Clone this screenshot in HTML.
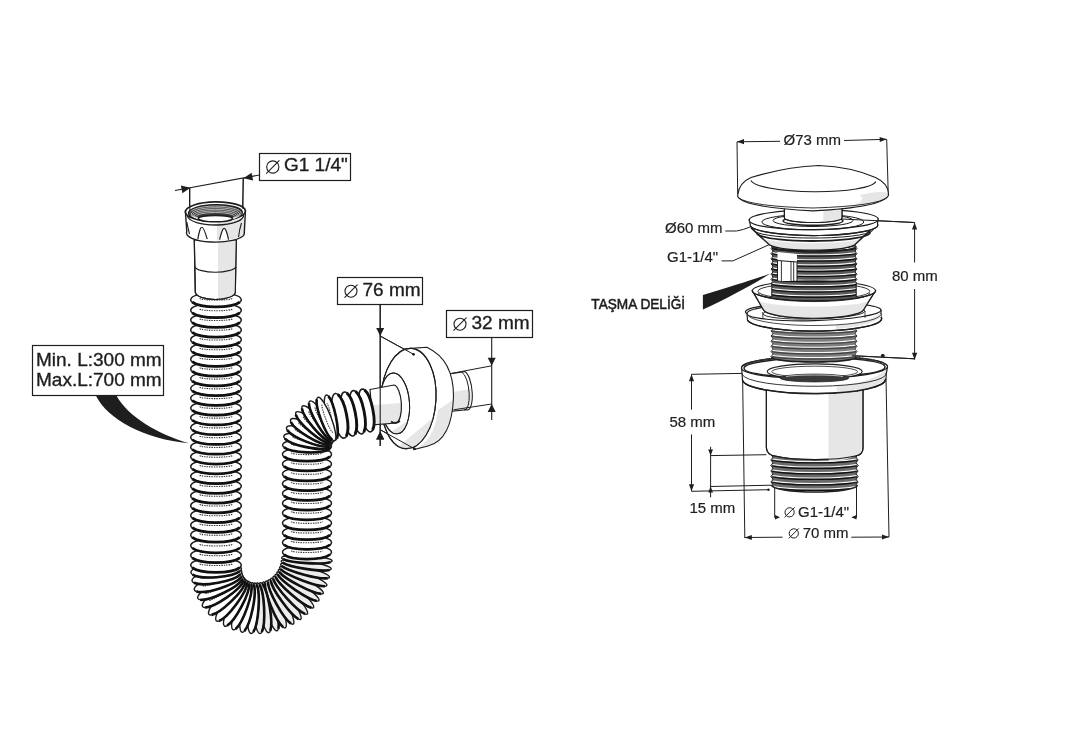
<!DOCTYPE html>
<html><head><meta charset="utf-8"><style>
html,body{margin:0;padding:0;background:#fff;}
svg{display:block;font-family:"Liberation Sans",sans-serif;will-change:transform;}
</style></head><body>
<svg width="1069" height="734" viewBox="0 0 1069 734">
<rect width="1069" height="734" fill="#fff"/>
<rect x="259.5" y="153.5" width="91" height="27" fill="#fff" stroke="#1e1e1e" stroke-width="1.2"/>
<circle cx="272.8" cy="167" r="6.1" fill="none" stroke="#1e1e1e" stroke-width="1.1"/>
<line x1="266.2" y1="173.6" x2="279.4" y2="160.4" stroke="#1e1e1e" stroke-width="1.1"/>
<text x="284" y="171.4" font-size="19" font-weight="400" letter-spacing="0" text-anchor="start" fill="#1e1e1e" stroke="#1e1e1e" stroke-width="0.35">G1 1/4"</text>
<line x1="175.0" y1="190.5" x2="259.5" y2="175.0" stroke="#1e1e1e" stroke-width="1.1"/>
<path d="M190.5,187.7 L182.4,193.2 L180.9,185.4 Z" fill="#1e1e1e"/>
<path d="M243.5,178.2 L251.6,172.7 L253.1,180.5 Z" fill="#1e1e1e"/>
<line x1="189.5" y1="188.0" x2="189.5" y2="216.0" stroke="#1e1e1e" stroke-width="1.0"/>
<line x1="243.5" y1="178.0" x2="242.5" y2="208.0" stroke="#1e1e1e" stroke-width="1.0"/>
<rect x="337.5" y="277.5" width="85" height="27" fill="#fff" stroke="#1e1e1e" stroke-width="1.2"/>
<circle cx="351" cy="291.2" r="6.0" fill="none" stroke="#1e1e1e" stroke-width="1.1"/>
<line x1="344.5" y1="297.7" x2="357.5" y2="284.7" stroke="#1e1e1e" stroke-width="1.1"/>
<text x="362.5" y="296" font-size="19" font-weight="400" letter-spacing="0" text-anchor="start" fill="#1e1e1e" stroke="#1e1e1e" stroke-width="0.35">76 mm</text>
<line x1="380.2" y1="304.5" x2="380.2" y2="446.0" stroke="#1e1e1e" stroke-width="1.1"/>
<path d="M380.2,336.0 L376.2,328.0 L384.2,328.0 Z" fill="#1e1e1e"/>
<path d="M380.2,431.5 L384.2,439.5 L376.2,439.5 Z" fill="#1e1e1e"/>
<line x1="380.2" y1="336.0" x2="413.5" y2="354.3" stroke="#1e1e1e" stroke-width="1.0"/>
<line x1="380.2" y1="429.7" x2="414.5" y2="448.8" stroke="#1e1e1e" stroke-width="1.0"/>
<circle cx="413.5" cy="354.3" r="1.3" fill="#1e1e1e"/>
<circle cx="414.5" cy="448.8" r="1.3" fill="#1e1e1e"/>
<rect x="446.5" y="310.5" width="86" height="27" fill="#fff" stroke="#1e1e1e" stroke-width="1.2"/>
<circle cx="460" cy="324.2" r="6.0" fill="none" stroke="#1e1e1e" stroke-width="1.1"/>
<line x1="453.5" y1="330.7" x2="466.5" y2="317.7" stroke="#1e1e1e" stroke-width="1.1"/>
<text x="471.5" y="329" font-size="19" font-weight="400" letter-spacing="0" text-anchor="start" fill="#1e1e1e" stroke="#1e1e1e" stroke-width="0.35">32 mm</text>
<line x1="491.7" y1="337.5" x2="491.7" y2="420.0" stroke="#1e1e1e" stroke-width="1.1"/>
<path d="M491.7,365.8 L487.7,357.8 L495.7,357.8 Z" fill="#1e1e1e"/>
<path d="M491.7,404.0 L495.7,412.0 L487.7,412.0 Z" fill="#1e1e1e"/>
<rect x="32.5" y="345.5" width="131" height="50" fill="#fff" stroke="#1e1e1e" stroke-width="1.2"/>
<text x="36" y="366.3" font-size="19" font-weight="400" letter-spacing="0" text-anchor="start" fill="#1e1e1e" stroke="#1e1e1e" stroke-width="0.35">Min. L:300 mm</text>
<text x="36" y="385.6" font-size="19" font-weight="400" letter-spacing="0" text-anchor="start" fill="#1e1e1e" stroke="#1e1e1e" stroke-width="0.35">Max.L:700 mm</text>
<path d="M95.8,395.5 L116.4,395.5 C128,417 158,434 189,443.3 C145,439 108,420 95.8,395.5 Z" fill="#1e1e1e"/>
<text x="783.5" y="144.5" font-size="15" font-weight="400" letter-spacing="0" text-anchor="start" fill="#1e1e1e" stroke="#1e1e1e" stroke-width="0.2">Ø73 mm</text>
<line x1="737.0" y1="141.8" x2="780.0" y2="141.3" stroke="#1e1e1e" stroke-width="1.0"/>
<line x1="844.0" y1="140.5" x2="886.7" y2="139.3" stroke="#1e1e1e" stroke-width="1.0"/>
<path d="M737.0,141.8 L744.0,139.1 L744.0,144.3 Z" fill="#1e1e1e"/>
<path d="M886.7,139.3 L879.8,142.1 L879.6,136.9 Z" fill="#1e1e1e"/>
<line x1="737.0" y1="141.8" x2="737.7" y2="194.0" stroke="#1e1e1e" stroke-width="1.0"/>
<line x1="886.7" y1="139.3" x2="888.2" y2="192.4" stroke="#1e1e1e" stroke-width="1.0"/>
<text x="665" y="232.8" font-size="15" font-weight="400" letter-spacing="0" text-anchor="start" fill="#1e1e1e" stroke="#1e1e1e" stroke-width="0.2">Ø60 mm</text>
<path d="M725.3,231 L736.5,231 Q743,230 750.6,226.8" fill="none" stroke="#1e1e1e" stroke-width="1"/>
<text x="667" y="262.4" font-size="15" font-weight="400" letter-spacing="0" text-anchor="start" fill="#1e1e1e" stroke="#1e1e1e" stroke-width="0.2">G1-1/4"</text>
<path d="M721.6,260.9 L732.8,260.9 L769.3,244.6" fill="none" stroke="#1e1e1e" stroke-width="1"/>
<text transform="translate(591.3 308.6) scale(0.9 1)" x="0" y="0" font-size="15.2" fill="#1e1e1e" stroke="#1e1e1e" stroke-width="0.55">TAŞMA DELİĞİ</text>
<path d="M702.9,295 C728,287.5 752,280 770.5,273.5 C752,285 728,298 702.9,309.5 Z" fill="#1e1e1e"/>
<text x="892" y="281" font-size="15" font-weight="400" letter-spacing="0" text-anchor="start" fill="#1e1e1e" stroke="#1e1e1e" stroke-width="0.2">80 mm</text>
<line x1="841.3" y1="219.0" x2="914.6" y2="222.5" stroke="#1e1e1e" stroke-width="1.0"/>
<line x1="914.6" y1="222.5" x2="914.6" y2="262.5" stroke="#1e1e1e" stroke-width="1.0"/>
<line x1="914.6" y1="289.0" x2="914.6" y2="359.7" stroke="#1e1e1e" stroke-width="1.0"/>
<path d="M914.6,222.5 L917.2,229.5 L912.0,229.5 Z" fill="#1e1e1e"/>
<path d="M914.6,359.7 L912.0,352.7 L917.2,352.7 Z" fill="#1e1e1e"/>
<line x1="857.0" y1="356.0" x2="914.6" y2="358.8" stroke="#1e1e1e" stroke-width="1.0"/>
<circle cx="882.5" cy="355.6" r="1.6" fill="#1e1e1e"/>
<text x="669.5" y="427.2" font-size="15" font-weight="400" letter-spacing="0" text-anchor="start" fill="#1e1e1e" stroke="#1e1e1e" stroke-width="0.2">58 mm</text>
<line x1="691.5" y1="374.3" x2="742.0" y2="373.4" stroke="#1e1e1e" stroke-width="1.0"/>
<line x1="691.5" y1="374.3" x2="691.5" y2="409.6" stroke="#1e1e1e" stroke-width="1.0"/>
<line x1="691.5" y1="434.4" x2="691.5" y2="491.3" stroke="#1e1e1e" stroke-width="1.0"/>
<path d="M691.5,374.3 L694.1,381.3 L688.9,381.3 Z" fill="#1e1e1e"/>
<path d="M691.5,491.3 L688.9,484.3 L694.1,484.3 Z" fill="#1e1e1e"/>
<line x1="691.5" y1="491.3" x2="768.5" y2="489.7" stroke="#1e1e1e" stroke-width="1.0"/>
<circle cx="768.5" cy="489.7" r="1.2" fill="#1e1e1e"/>
<text x="689.5" y="513" font-size="15" font-weight="400" letter-spacing="0" text-anchor="start" fill="#1e1e1e" stroke="#1e1e1e" stroke-width="0.2">15 mm</text>
<line x1="710.6" y1="446.8" x2="710.6" y2="497.4" stroke="#1e1e1e" stroke-width="1.0"/>
<line x1="710.6" y1="455.6" x2="766.4" y2="454.7" stroke="#1e1e1e" stroke-width="1.0"/>
<line x1="710.6" y1="486.5" x2="771.6" y2="485.2" stroke="#1e1e1e" stroke-width="1.0"/>
<path d="M710.6,455.6 L708.2,449.6 L713.0,449.6 Z" fill="#1e1e1e"/>
<path d="M710.6,486.5 L713.0,492.5 L708.2,492.5 Z" fill="#1e1e1e"/>
<circle cx="789.6" cy="512.3" r="4.6" fill="none" stroke="#1e1e1e" stroke-width="1.0"/>
<line x1="784.6" y1="517.3" x2="794.6" y2="507.3" stroke="#1e1e1e" stroke-width="1.0"/>
<text x="798" y="516.6" font-size="15" font-weight="400" letter-spacing="0" text-anchor="start" fill="#1e1e1e" stroke="#1e1e1e" stroke-width="0.2">G1-1/4"</text>
<line x1="774.7" y1="485.0" x2="774.7" y2="517.5" stroke="#1e1e1e" stroke-width="1.0"/>
<line x1="856.5" y1="485.0" x2="856.5" y2="517.5" stroke="#1e1e1e" stroke-width="1.0"/>
<line x1="774.7" y1="517.5" x2="779.0" y2="517.5" stroke="#1e1e1e" stroke-width="1.0"/>
<line x1="852.0" y1="517.5" x2="856.5" y2="517.5" stroke="#1e1e1e" stroke-width="1.0"/>
<path d="M780.0,517.3 L775.0,519.5 L775.0,515.1 Z" fill="#1e1e1e"/>
<path d="M851.5,517.3 L856.5,515.1 L856.5,519.5 Z" fill="#1e1e1e"/>
<circle cx="793.8" cy="533.4" r="4.6" fill="none" stroke="#1e1e1e" stroke-width="1.0"/>
<line x1="788.8" y1="538.4" x2="798.8" y2="528.4" stroke="#1e1e1e" stroke-width="1.0"/>
<text x="802.7" y="537.6" font-size="15" font-weight="400" letter-spacing="0" text-anchor="start" fill="#1e1e1e" stroke="#1e1e1e" stroke-width="0.2">70 mm</text>
<line x1="742.5" y1="368.0" x2="744.8" y2="538.0" stroke="#1e1e1e" stroke-width="1.0"/>
<line x1="885.8" y1="367.0" x2="889.0" y2="537.0" stroke="#1e1e1e" stroke-width="1.0"/>
<line x1="744.8" y1="537.5" x2="782.6" y2="537.2" stroke="#1e1e1e" stroke-width="1.0"/>
<line x1="851.3" y1="537.2" x2="889.0" y2="537.0" stroke="#1e1e1e" stroke-width="1.0"/>
<path d="M744.8,537.5 L751.8,534.9 L751.8,540.1 Z" fill="#1e1e1e"/>
<path d="M889.0,537.0 L882.0,539.6 L882.0,534.4 Z" fill="#1e1e1e"/>
<path d="M444,374.8 L464.5,371.6 A6.5,19.2 -6 0 1 466.5,409.8 L446,411.8 Z" fill="#fff" stroke="none"/>
<path d="M446,393 L470.5,389 A6.5,19.2 -6 0 1 466.5,409.8 L446,411.8 Z" fill="#e6e6e6"/>
<path d="M444,374.8 L464.5,371.6 A6.5,19.2 -6 0 1 466.5,409.8 L446,411.8 Z" fill="none" stroke="#1e1e1e" stroke-width="1.1"/>
<path d="M462,372.5 A6.3,19 -6 0 1 464,410" fill="none" stroke="#1e1e1e" stroke-width="1.0"/>
<line x1="444.0" y1="374.8" x2="491.7" y2="365.8" stroke="#1e1e1e" stroke-width="1.0"/>
<line x1="453.5" y1="409.8" x2="491.7" y2="404.0" stroke="#1e1e1e" stroke-width="1.0"/>
<path d="M411,348.4 L426.8,347.2 Q454,360 453.5,397 Q452,440 428,446 L414,449.5 Z" fill="#fff" stroke="none"/>
<path d="M414,449.5 L428,446 Q450,438 453,400 L438,410 Q434,442 414,449.5 Z" fill="#e6e6e6"/>
<path d="M411,348.4 L426.8,347.2 Q454,360 453.5,397 Q452,440 428,446 L414,449.5 Z" fill="none" stroke="#1e1e1e" stroke-width="1.1"/>
<ellipse cx="408.50" cy="398.50" rx="27.50" ry="50.20" transform="rotate(3.00 408.50 398.50)" fill="#fff" stroke="#1e1e1e" stroke-width="1.1" />
<clipPath id="dfc"><ellipse cx="408.5" cy="398.5" rx="27.5" ry="50.2" transform="rotate(3 408.5 398.5)"/></clipPath>
<path d="M392,452 L440,412 L440,460 Z" fill="#e6e6e6" clip-path="url(#dfc)"/>
<ellipse cx="408.50" cy="398.50" rx="27.50" ry="50.20" transform="rotate(3.00 408.50 398.50)" fill="none" stroke="#1e1e1e" stroke-width="1.1" />
<ellipse cx="395.00" cy="403.40" rx="14.50" ry="30.50" transform="rotate(-4.00 395.00 403.40)" fill="#fff" stroke="#1e1e1e" stroke-width="1.0" />
<clipPath id="src"><ellipse cx="395" cy="403.4" rx="14.5" ry="30.5" transform="rotate(-4 395 403.4)"/></clipPath>
<path d="M385,436 L412,418 L412,440 L385,440 Z" fill="#e6e6e6" clip-path="url(#src)"/>
<ellipse cx="395.00" cy="403.40" rx="14.50" ry="30.50" transform="rotate(-4.00 395.00 403.40)" fill="none" stroke="#1e1e1e" stroke-width="1.0" />
<path d="M370,389.5 L394,385 A7,19.2 -3 0 1 396.5,423 L373,424.8 Z" fill="#fff" stroke="none"/>
<path d="M372,405 L402,403 A7,19.2 -3 0 1 396.5,423 L373,424.8 Z" fill="#e6e6e6"/>
<path d="M370,389.5 L394,385 A7,19.2 -3 0 1 396.5,423 L373,424.8 Z" fill="none" stroke="#1e1e1e" stroke-width="1.2"/>
<path d="M391,421.5 Q395.5,424.5 400,421" fill="none" stroke="#1e1e1e" stroke-width="1.6"/>
<g transform="translate(270.15 606.45) rotate(-105.95)"><ellipse cx="0" cy="0" rx="25.3" ry="5.10875" fill="#ededed" stroke="#1e1e1e" stroke-width="1.44"/><path d="M-23.78,1.74 A25.3,5.10875 0 0 0 23.78,1.74" fill="none" stroke="#111" stroke-width="2.61"/></g>
<g transform="translate(275.62 604.54) rotate(67.58)"><ellipse cx="0" cy="0" rx="25.3" ry="4.984999999999999" fill="#ededed" stroke="#1e1e1e" stroke-width="1.44"/><path d="M-23.78,1.69 A25.3,4.984999999999999 0 0 0 23.78,1.69" fill="none" stroke="#111" stroke-width="2.61"/></g>
<g transform="translate(264.57 607.71) rotate(-99.50)"><ellipse cx="0" cy="0" rx="25.3" ry="5.2325" fill="#ededed" stroke="#1e1e1e" stroke-width="1.44"/><path d="M-23.78,1.78 A25.3,5.2325 0 0 0 23.78,1.78" fill="none" stroke="#111" stroke-width="2.61"/></g>
<g transform="translate(280.89 602.01) rotate(61.02)"><ellipse cx="0" cy="0" rx="25.3" ry="4.86125" fill="#ededed" stroke="#1e1e1e" stroke-width="1.44"/><path d="M-23.78,1.65 A25.3,4.86125 0 0 0 23.78,1.65" fill="none" stroke="#111" stroke-width="2.61"/></g>
<g transform="translate(258.77 608.33) rotate(-92.78)"><ellipse cx="0" cy="0" rx="25.3" ry="5.359999999999999" fill="#ededed" stroke="#1e1e1e" stroke-width="1.44"/><path d="M-23.78,1.82 A25.3,5.359999999999999 0 0 0 23.78,1.82" fill="none" stroke="#111" stroke-width="2.61"/></g>
<g transform="translate(285.89 598.84) rotate(54.29)"><ellipse cx="0" cy="0" rx="25.3" ry="4.7375" fill="#ededed" stroke="#1e1e1e" stroke-width="1.44"/><path d="M-23.78,1.61 A25.3,4.7375 0 0 0 23.78,1.61" fill="none" stroke="#111" stroke-width="2.61"/></g>
<g transform="translate(253.01 608.27) rotate(-85.86)"><ellipse cx="0" cy="0" rx="25.3" ry="5.4875" fill="#fff" stroke="#1e1e1e" stroke-width="1.44"/><path d="M-23.78,1.87 A25.3,5.4875 0 0 0 23.78,1.87" fill="none" stroke="#111" stroke-width="2.61"/></g>
<g transform="translate(290.28 595.30) rotate(47.79)"><ellipse cx="0" cy="0" rx="25.3" ry="4.62125" fill="#ededed" stroke="#1e1e1e" stroke-width="1.44"/><path d="M-23.78,1.57 A25.3,4.62125 0 0 0 23.78,1.57" fill="none" stroke="#111" stroke-width="2.61"/></g>
<g transform="translate(247.22 607.47) rotate(-78.43)"><ellipse cx="0" cy="0" rx="25.3" ry="5.61875" fill="#fff" stroke="#1e1e1e" stroke-width="1.44"/><path d="M-23.78,1.91 A25.3,5.61875 0 0 0 23.78,1.91" fill="none" stroke="#111" stroke-width="2.61"/></g>
<g transform="translate(294.41 591.07) rotate(40.89)"><ellipse cx="0" cy="0" rx="25.3" ry="4.50125" fill="#ededed" stroke="#1e1e1e" stroke-width="1.44"/><path d="M-23.78,1.53 A25.3,4.50125 0 0 0 23.78,1.53" fill="none" stroke="#111" stroke-width="2.61"/></g>
<g transform="translate(241.64 605.93) rotate(-70.59)"><ellipse cx="0" cy="0" rx="25.3" ry="5.75" fill="#fff" stroke="#1e1e1e" stroke-width="1.44"/><path d="M-23.78,1.96 A25.3,5.75 0 0 0 23.78,1.96" fill="none" stroke="#111" stroke-width="2.61"/></g>
<g transform="translate(297.97 586.43) rotate(34.05)"><ellipse cx="0" cy="0" rx="25.3" ry="4.385" fill="#ededed" stroke="#1e1e1e" stroke-width="1.44"/><path d="M-23.78,1.49 A25.3,4.385 0 0 0 23.78,1.49" fill="none" stroke="#111" stroke-width="2.61"/></g>
<g transform="translate(236.38 603.64) rotate(-62.25)"><ellipse cx="0" cy="0" rx="25.3" ry="5.88125" fill="#fff" stroke="#1e1e1e" stroke-width="1.44"/><path d="M-23.78,2.00 A25.3,5.88125 0 0 0 23.78,2.00" fill="none" stroke="#111" stroke-width="2.61"/></g>
<g transform="translate(300.85 581.59) rotate(27.56)"><ellipse cx="0" cy="0" rx="25.3" ry="4.276249999999999" fill="#ededed" stroke="#1e1e1e" stroke-width="1.44"/><path d="M-23.78,1.45 A25.3,4.276249999999999 0 0 0 23.78,1.45" fill="none" stroke="#111" stroke-width="2.61"/></g>
<g transform="translate(231.52 600.59) rotate(-53.42)"><ellipse cx="0" cy="0" rx="25.3" ry="6.012499999999999" fill="#fff" stroke="#1e1e1e" stroke-width="1.44"/><path d="M-23.78,2.04 A25.3,6.012499999999999 0 0 0 23.78,2.04" fill="none" stroke="#111" stroke-width="2.61"/></g>
<g transform="translate(303.24 576.30) rotate(21.05)"><ellipse cx="0" cy="0" rx="25.3" ry="4.1675" fill="#ededed" stroke="#1e1e1e" stroke-width="1.44"/><path d="M-23.78,1.42 A25.3,4.1675 0 0 0 23.78,1.42" fill="none" stroke="#111" stroke-width="2.61"/></g>
<g transform="translate(227.16 596.77) rotate(-44.19)"><ellipse cx="0" cy="0" rx="25.3" ry="6.14375" fill="#fff" stroke="#1e1e1e" stroke-width="1.44"/><path d="M-23.78,2.09 A25.3,6.14375 0 0 0 23.78,2.09" fill="none" stroke="#111" stroke-width="2.61"/></g>
<g transform="translate(305.03 570.74) rotate(14.82)"><ellipse cx="0" cy="0" rx="25.3" ry="4.0625" fill="#ededed" stroke="#1e1e1e" stroke-width="1.44"/><path d="M-23.78,1.38 A25.3,4.0625 0 0 0 23.78,1.38" fill="none" stroke="#111" stroke-width="2.61"/></g>
<g transform="translate(223.39 592.19) rotate(-34.74)"><ellipse cx="0" cy="0" rx="25.3" ry="6.275" fill="#fff" stroke="#1e1e1e" stroke-width="1.44"/><path d="M-23.78,2.13 A25.3,6.275 0 0 0 23.78,2.13" fill="none" stroke="#111" stroke-width="2.61"/><path d="M-16.2,-1.4 A16.2,1.8 0 0 0 16.2,-1.4" fill="none" stroke="#333" stroke-width="1.1" stroke-dasharray="1.4 1.0"/></g>
<g transform="translate(306.24 564.99) rotate(8.94)"><ellipse cx="0" cy="0" rx="25.3" ry="3.9612499999999997" fill="#ededed" stroke="#1e1e1e" stroke-width="1.44"/><path d="M-23.78,1.35 A25.3,3.9612499999999997 0 0 0 23.78,1.35" fill="none" stroke="#111" stroke-width="2.61"/></g>
<g transform="translate(220.53 587.31) rotate(-26.12)"><ellipse cx="0" cy="0" rx="25.3" ry="6.395" fill="#fff" stroke="#1e1e1e" stroke-width="1.44"/><path d="M-23.78,2.17 A25.3,6.395 0 0 0 23.78,2.17" fill="none" stroke="#111" stroke-width="2.61"/><path d="M-16.2,-1.4 A16.2,1.8 0 0 0 16.2,-1.4" fill="none" stroke="#333" stroke-width="1.1" stroke-dasharray="1.4 1.0"/></g>
<g transform="translate(306.86 559.30) rotate(3.67)"><ellipse cx="0" cy="0" rx="25.3" ry="3.8674999999999997" fill="#ededed" stroke="#1e1e1e" stroke-width="1.44"/><path d="M-23.78,1.31 A25.3,3.8674999999999997 0 0 0 23.78,1.31" fill="none" stroke="#111" stroke-width="2.61"/></g>
<g transform="translate(218.37 581.97) rotate(-18.03)"><ellipse cx="0" cy="0" rx="25.3" ry="6.5112499999999995" fill="#fff" stroke="#1e1e1e" stroke-width="1.44"/><path d="M-23.78,2.21 A25.3,6.5112499999999995 0 0 0 23.78,2.21" fill="none" stroke="#111" stroke-width="2.61"/><path d="M-16.2,-1.4 A16.2,1.8 0 0 0 16.2,-1.4" fill="none" stroke="#333" stroke-width="1.1" stroke-dasharray="1.4 1.0"/></g>
<g transform="translate(307.00 552.12) rotate(0.00)"><ellipse cx="0" cy="0" rx="24.5" ry="7.0" fill="#fff" stroke="#1e1e1e" stroke-width="1.52"/><path d="M-23.03,2.38 A24.5,7.0 0 0 0 23.03,2.38" fill="none" stroke="#111" stroke-width="2.75"/><path d="M-15.7,-1.4 A15.7,1.8 0 0 0 15.7,-1.4" fill="none" stroke="#333" stroke-width="1.1" stroke-dasharray="1.4 1.0"/></g>
<g transform="translate(216.91 576.21) rotate(-10.59)"><ellipse cx="0" cy="0" rx="25.3" ry="6.62375" fill="#fff" stroke="#1e1e1e" stroke-width="1.44"/><path d="M-23.78,2.25 A25.3,6.62375 0 0 0 23.78,2.25" fill="none" stroke="#111" stroke-width="2.61"/><path d="M-16.2,-1.4 A16.2,1.8 0 0 0 16.2,-1.4" fill="none" stroke="#333" stroke-width="1.1" stroke-dasharray="1.4 1.0"/></g>
<g transform="translate(216.17 570.52) rotate(-4.34)"><ellipse cx="0" cy="0" rx="25.3" ry="6.725" fill="#fff" stroke="#1e1e1e" stroke-width="1.44"/><path d="M-23.78,2.29 A25.3,6.725 0 0 0 23.78,2.29" fill="none" stroke="#111" stroke-width="2.61"/><path d="M-16.2,-1.4 A16.2,1.8 0 0 0 16.2,-1.4" fill="none" stroke="#333" stroke-width="1.1" stroke-dasharray="1.4 1.0"/></g>
<g transform="translate(307.00 542.40) rotate(0.00)"><ellipse cx="0" cy="0" rx="24.5" ry="7.0" fill="#fff" stroke="#1e1e1e" stroke-width="1.52"/><path d="M-23.03,2.38 A24.5,7.0 0 0 0 23.03,2.38" fill="none" stroke="#111" stroke-width="2.75"/><path d="M-15.7,-1.4 A15.7,1.8 0 0 0 15.7,-1.4" fill="none" stroke="#333" stroke-width="1.1" stroke-dasharray="1.4 1.0"/></g>
<g transform="translate(216.00 565.11) rotate(0.00)"><ellipse cx="0" cy="0" rx="25.3" ry="7.2" fill="#fff" stroke="#1e1e1e" stroke-width="1.52"/><path d="M-23.78,2.45 A25.3,7.2 0 0 0 23.78,2.45" fill="none" stroke="#111" stroke-width="2.75"/><path d="M-16.2,-1.4 A16.2,1.8 0 0 0 16.2,-1.4" fill="none" stroke="#333" stroke-width="1.1" stroke-dasharray="1.4 1.0"/></g>
<g transform="translate(307.00 532.68) rotate(0.00)"><ellipse cx="0" cy="0" rx="24.5" ry="7.0" fill="#fff" stroke="#1e1e1e" stroke-width="1.52"/><path d="M-23.03,2.38 A24.5,7.0 0 0 0 23.03,2.38" fill="none" stroke="#111" stroke-width="2.75"/><path d="M-15.7,-1.4 A15.7,1.8 0 0 0 15.7,-1.4" fill="none" stroke="#333" stroke-width="1.1" stroke-dasharray="1.4 1.0"/></g>
<g transform="translate(216.00 555.35) rotate(0.00)"><ellipse cx="0" cy="0" rx="25.3" ry="7.2" fill="#fff" stroke="#1e1e1e" stroke-width="1.52"/><path d="M-23.78,2.45 A25.3,7.2 0 0 0 23.78,2.45" fill="none" stroke="#111" stroke-width="2.75"/><path d="M-16.2,-1.4 A16.2,1.8 0 0 0 16.2,-1.4" fill="none" stroke="#333" stroke-width="1.1" stroke-dasharray="1.4 1.0"/></g>
<g transform="translate(307.00 522.96) rotate(0.00)"><ellipse cx="0" cy="0" rx="24.5" ry="7.0" fill="#fff" stroke="#1e1e1e" stroke-width="1.52"/><path d="M-23.03,2.38 A24.5,7.0 0 0 0 23.03,2.38" fill="none" stroke="#111" stroke-width="2.75"/><path d="M-15.7,-1.4 A15.7,1.8 0 0 0 15.7,-1.4" fill="none" stroke="#333" stroke-width="1.1" stroke-dasharray="1.4 1.0"/></g>
<g transform="translate(216.00 545.58) rotate(0.00)"><ellipse cx="0" cy="0" rx="25.3" ry="7.2" fill="#fff" stroke="#1e1e1e" stroke-width="1.52"/><path d="M-23.78,2.45 A25.3,7.2 0 0 0 23.78,2.45" fill="none" stroke="#111" stroke-width="2.75"/><path d="M-16.2,-1.4 A16.2,1.8 0 0 0 16.2,-1.4" fill="none" stroke="#333" stroke-width="1.1" stroke-dasharray="1.4 1.0"/></g>
<g transform="translate(307.00 512.88) rotate(0.00)"><ellipse cx="0" cy="0" rx="24.5" ry="7.0" fill="#fff" stroke="#1e1e1e" stroke-width="1.52"/><path d="M-23.03,2.38 A24.5,7.0 0 0 0 23.03,2.38" fill="none" stroke="#111" stroke-width="2.75"/><path d="M-15.7,-1.4 A15.7,1.8 0 0 0 15.7,-1.4" fill="none" stroke="#333" stroke-width="1.1" stroke-dasharray="1.4 1.0"/></g>
<g transform="translate(216.00 534.93) rotate(0.00)"><ellipse cx="0" cy="0" rx="25.3" ry="7.2" fill="#fff" stroke="#1e1e1e" stroke-width="1.52"/><path d="M-23.78,2.45 A25.3,7.2 0 0 0 23.78,2.45" fill="none" stroke="#111" stroke-width="2.75"/><path d="M-16.2,-1.4 A16.2,1.8 0 0 0 16.2,-1.4" fill="none" stroke="#333" stroke-width="1.1" stroke-dasharray="1.4 1.0"/></g>
<g transform="translate(307.00 503.16) rotate(0.00)"><ellipse cx="0" cy="0" rx="24.5" ry="7.0" fill="#fff" stroke="#1e1e1e" stroke-width="1.52"/><path d="M-23.03,2.38 A24.5,7.0 0 0 0 23.03,2.38" fill="none" stroke="#111" stroke-width="2.75"/><path d="M-15.7,-1.4 A15.7,1.8 0 0 0 15.7,-1.4" fill="none" stroke="#333" stroke-width="1.1" stroke-dasharray="1.4 1.0"/></g>
<g transform="translate(216.00 525.17) rotate(0.00)"><ellipse cx="0" cy="0" rx="25.3" ry="7.2" fill="#fff" stroke="#1e1e1e" stroke-width="1.52"/><path d="M-23.78,2.45 A25.3,7.2 0 0 0 23.78,2.45" fill="none" stroke="#111" stroke-width="2.75"/><path d="M-16.2,-1.4 A16.2,1.8 0 0 0 16.2,-1.4" fill="none" stroke="#333" stroke-width="1.1" stroke-dasharray="1.4 1.0"/></g>
<g transform="translate(307.00 493.44) rotate(0.00)"><ellipse cx="0" cy="0" rx="24.5" ry="7.0" fill="#fff" stroke="#1e1e1e" stroke-width="1.52"/><path d="M-23.03,2.38 A24.5,7.0 0 0 0 23.03,2.38" fill="none" stroke="#111" stroke-width="2.75"/><path d="M-15.7,-1.4 A15.7,1.8 0 0 0 15.7,-1.4" fill="none" stroke="#333" stroke-width="1.1" stroke-dasharray="1.4 1.0"/></g>
<g transform="translate(216.00 515.40) rotate(0.00)"><ellipse cx="0" cy="0" rx="25.3" ry="7.2" fill="#fff" stroke="#1e1e1e" stroke-width="1.52"/><path d="M-23.78,2.45 A25.3,7.2 0 0 0 23.78,2.45" fill="none" stroke="#111" stroke-width="2.75"/><path d="M-16.2,-1.4 A16.2,1.8 0 0 0 16.2,-1.4" fill="none" stroke="#333" stroke-width="1.1" stroke-dasharray="1.4 1.0"/></g>
<g transform="translate(307.00 483.72) rotate(0.00)"><ellipse cx="0" cy="0" rx="24.5" ry="7.0" fill="#fff" stroke="#1e1e1e" stroke-width="1.52"/><path d="M-23.03,2.38 A24.5,7.0 0 0 0 23.03,2.38" fill="none" stroke="#111" stroke-width="2.75"/><path d="M-15.7,-1.4 A15.7,1.8 0 0 0 15.7,-1.4" fill="none" stroke="#333" stroke-width="1.1" stroke-dasharray="1.4 1.0"/></g>
<g transform="translate(216.00 505.64) rotate(0.00)"><ellipse cx="0" cy="0" rx="25.3" ry="7.2" fill="#fff" stroke="#1e1e1e" stroke-width="1.52"/><path d="M-23.78,2.45 A25.3,7.2 0 0 0 23.78,2.45" fill="none" stroke="#111" stroke-width="2.75"/><path d="M-16.2,-1.4 A16.2,1.8 0 0 0 16.2,-1.4" fill="none" stroke="#333" stroke-width="1.1" stroke-dasharray="1.4 1.0"/></g>
<g transform="translate(307.00 474.00) rotate(0.00)"><ellipse cx="0" cy="0" rx="24.5" ry="7.0" fill="#fff" stroke="#1e1e1e" stroke-width="1.52"/><path d="M-23.03,2.38 A24.5,7.0 0 0 0 23.03,2.38" fill="none" stroke="#111" stroke-width="2.75"/><path d="M-15.7,-1.4 A15.7,1.8 0 0 0 15.7,-1.4" fill="none" stroke="#333" stroke-width="1.1" stroke-dasharray="1.4 1.0"/></g>
<g transform="translate(216.00 495.87) rotate(0.00)"><ellipse cx="0" cy="0" rx="25.3" ry="7.2" fill="#fff" stroke="#1e1e1e" stroke-width="1.52"/><path d="M-23.78,2.45 A25.3,7.2 0 0 0 23.78,2.45" fill="none" stroke="#111" stroke-width="2.75"/><path d="M-16.2,-1.4 A16.2,1.8 0 0 0 16.2,-1.4" fill="none" stroke="#333" stroke-width="1.1" stroke-dasharray="1.4 1.0"/></g>
<g transform="translate(307.00 463.92) rotate(0.00)"><ellipse cx="0" cy="0" rx="24.5" ry="7.0" fill="#fff" stroke="#1e1e1e" stroke-width="1.52"/><path d="M-23.03,2.38 A24.5,7.0 0 0 0 23.03,2.38" fill="none" stroke="#111" stroke-width="2.75"/><path d="M-15.7,-1.4 A15.7,1.8 0 0 0 15.7,-1.4" fill="none" stroke="#333" stroke-width="1.1" stroke-dasharray="1.4 1.0"/></g>
<g transform="translate(216.00 486.11) rotate(0.00)"><ellipse cx="0" cy="0" rx="25.3" ry="7.2" fill="#fff" stroke="#1e1e1e" stroke-width="1.52"/><path d="M-23.78,2.45 A25.3,7.2 0 0 0 23.78,2.45" fill="none" stroke="#111" stroke-width="2.75"/><path d="M-16.2,-1.4 A16.2,1.8 0 0 0 16.2,-1.4" fill="none" stroke="#333" stroke-width="1.1" stroke-dasharray="1.4 1.0"/></g>
<g transform="translate(307.00 454.20) rotate(0.00)"><ellipse cx="0" cy="0" rx="24.5" ry="7.0" fill="#fff" stroke="#1e1e1e" stroke-width="1.52"/><path d="M-23.03,2.38 A24.5,7.0 0 0 0 23.03,2.38" fill="none" stroke="#111" stroke-width="2.75"/><path d="M-15.7,-1.4 A15.7,1.8 0 0 0 15.7,-1.4" fill="none" stroke="#333" stroke-width="1.1" stroke-dasharray="1.4 1.0"/></g>
<g transform="translate(216.00 476.35) rotate(0.00)"><ellipse cx="0" cy="0" rx="25.3" ry="7.2" fill="#fff" stroke="#1e1e1e" stroke-width="1.52"/><path d="M-23.78,2.45 A25.3,7.2 0 0 0 23.78,2.45" fill="none" stroke="#111" stroke-width="2.75"/><path d="M-16.2,-1.4 A16.2,1.8 0 0 0 16.2,-1.4" fill="none" stroke="#333" stroke-width="1.1" stroke-dasharray="1.4 1.0"/></g>
<g transform="translate(307.02 445.90) rotate(2.10)"><ellipse cx="0" cy="0" rx="24.46" ry="6.46" fill="#fff" stroke="#1e1e1e" stroke-width="1.44"/><path d="M-22.99,2.20 A24.46,6.46 0 0 0 22.99,2.20" fill="none" stroke="#111" stroke-width="2.61"/><path d="M-15.7,-1.4 A15.7,1.8 0 0 0 15.7,-1.4" fill="none" stroke="#333" stroke-width="1.1" stroke-dasharray="1.4 1.0"/></g>
<g transform="translate(307.61 441.00) rotate(11.53)"><ellipse cx="0" cy="0" rx="24.28" ry="6.28" fill="#fff" stroke="#1e1e1e" stroke-width="1.44"/><path d="M-22.82,2.14 A24.28,6.28 0 0 0 22.82,2.14" fill="none" stroke="#111" stroke-width="2.61"/><path d="M-15.5,-1.4 A15.5,1.8 0 0 0 15.5,-1.4" fill="none" stroke="#333" stroke-width="1.1" stroke-dasharray="1.4 1.0"/></g>
<g transform="translate(216.00 466.58) rotate(0.00)"><ellipse cx="0" cy="0" rx="25.3" ry="7.2" fill="#fff" stroke="#1e1e1e" stroke-width="1.52"/><path d="M-23.78,2.45 A25.3,7.2 0 0 0 23.78,2.45" fill="none" stroke="#111" stroke-width="2.75"/><path d="M-16.2,-1.4 A16.2,1.8 0 0 0 16.2,-1.4" fill="none" stroke="#333" stroke-width="1.1" stroke-dasharray="1.4 1.0"/></g>
<g transform="translate(309.01 436.20) rotate(21.09)"><ellipse cx="0" cy="0" rx="24.0975" ry="6.0975" fill="#fff" stroke="#1e1e1e" stroke-width="1.44"/><path d="M-22.65,2.07 A24.0975,6.0975 0 0 0 22.65,2.07" fill="none" stroke="#111" stroke-width="2.61"/><path d="M-15.4,-1.4 A15.4,1.8 0 0 0 15.4,-1.4" fill="none" stroke="#333" stroke-width="1.1" stroke-dasharray="1.4 1.0"/></g>
<g transform="translate(311.19 431.70) rotate(30.65)"><ellipse cx="0" cy="0" rx="23.915" ry="5.915" fill="#fff" stroke="#1e1e1e" stroke-width="1.44"/><path d="M-22.48,2.01 A23.915,5.915 0 0 0 22.48,2.01" fill="none" stroke="#111" stroke-width="2.61"/><path d="M-15.3,-1.4 A15.3,1.8 0 0 0 15.3,-1.4" fill="none" stroke="#333" stroke-width="1.1" stroke-dasharray="1.4 1.0"/></g>
<g transform="translate(314.09 427.63) rotate(40.22)"><ellipse cx="0" cy="0" rx="23.7325" ry="5.7325" fill="#fff" stroke="#1e1e1e" stroke-width="1.44"/><path d="M-22.31,1.95 A23.7325,5.7325 0 0 0 22.31,1.95" fill="none" stroke="#111" stroke-width="2.61"/><path d="M-15.2,-1.4 A15.2,1.8 0 0 0 15.2,-1.4" fill="none" stroke="#333" stroke-width="1.1" stroke-dasharray="1.4 1.0"/></g>
<g transform="translate(216.00 456.82) rotate(0.00)"><ellipse cx="0" cy="0" rx="25.3" ry="7.2" fill="#fff" stroke="#1e1e1e" stroke-width="1.52"/><path d="M-23.78,2.45 A25.3,7.2 0 0 0 23.78,2.45" fill="none" stroke="#111" stroke-width="2.75"/><path d="M-16.2,-1.4 A16.2,1.8 0 0 0 16.2,-1.4" fill="none" stroke="#333" stroke-width="1.1" stroke-dasharray="1.4 1.0"/></g>
<g transform="translate(366.33 410.47) rotate(-101.42)"><ellipse cx="0" cy="0" rx="21.745" ry="6.581666666666667" fill="#fff" stroke="#1e1e1e" stroke-width="1.60"/><path d="M-20.44,2.24 A21.745,6.581666666666667 0 0 0 20.44,2.24" fill="none" stroke="#111" stroke-width="2.90"/></g>
<g transform="translate(357.48 412.26) rotate(-101.42)"><ellipse cx="0" cy="0" rx="22.06" ry="6.6866666666666665" fill="#fff" stroke="#1e1e1e" stroke-width="1.60"/><path d="M-20.74,2.27 A22.06,6.6866666666666665 0 0 0 20.74,2.27" fill="none" stroke="#111" stroke-width="2.90"/></g>
<g transform="translate(317.63 424.09) rotate(49.78)"><ellipse cx="0" cy="0" rx="23.55" ry="5.55" fill="#fff" stroke="#1e1e1e" stroke-width="1.44"/><path d="M-22.14,1.89 A23.55,5.55 0 0 0 22.14,1.89" fill="none" stroke="#111" stroke-width="2.61"/><path d="M-15.1,-1.4 A15.1,1.8 0 0 0 15.1,-1.4" fill="none" stroke="#333" stroke-width="1.1" stroke-dasharray="1.4 1.0"/></g>
<g transform="translate(348.63 414.04) rotate(-101.42)"><ellipse cx="0" cy="0" rx="22.375" ry="6.791666666666667" fill="#fff" stroke="#1e1e1e" stroke-width="1.60"/><path d="M-21.03,2.31 A22.375,6.791666666666667 0 0 0 21.03,2.31" fill="none" stroke="#111" stroke-width="2.90"/></g>
<g transform="translate(339.78 415.83) rotate(-101.42)"><ellipse cx="0" cy="0" rx="22.69" ry="6.8966666666666665" fill="#fff" stroke="#1e1e1e" stroke-width="1.60"/><path d="M-21.33,2.34 A22.69,6.8966666666666665 0 0 0 21.33,2.34" fill="none" stroke="#111" stroke-width="2.90"/></g>
<g transform="translate(321.70 421.19) rotate(59.34)"><ellipse cx="0" cy="0" rx="23.3675" ry="5.3675" fill="#fff" stroke="#1e1e1e" stroke-width="1.44"/><path d="M-21.97,1.82 A23.3675,5.3675 0 0 0 21.97,1.82" fill="none" stroke="#111" stroke-width="2.61"/><path d="M-15.0,-1.4 A15.0,1.8 0 0 0 15.0,-1.4" fill="none" stroke="#333" stroke-width="1.1" stroke-dasharray="1.4 1.0"/></g>
<g transform="translate(331.00 417.61) rotate(-101.53)"><ellipse cx="0" cy="0" rx="23.0025" ry="5.0024999999999995" fill="#fff" stroke="#1e1e1e" stroke-width="1.44"/><path d="M-21.62,1.70 A23.0025,5.0024999999999995 0 0 0 21.62,1.70" fill="none" stroke="#111" stroke-width="2.61"/><path d="M-14.7,-1.4 A14.7,1.8 0 0 0 14.7,-1.4" fill="none" stroke="#333" stroke-width="1.1" stroke-dasharray="1.4 1.0"/></g>
<g transform="translate(326.20 419.01) rotate(68.91)"><ellipse cx="0" cy="0" rx="23.185" ry="5.1850000000000005" fill="#fff" stroke="#1e1e1e" stroke-width="1.44"/><path d="M-21.79,1.76 A23.185,5.1850000000000005 0 0 0 21.79,1.76" fill="none" stroke="#111" stroke-width="2.61"/><path d="M-14.8,-1.4 A14.8,1.8 0 0 0 14.8,-1.4" fill="none" stroke="#333" stroke-width="1.1" stroke-dasharray="1.4 1.0"/></g>
<g transform="translate(216.00 447.05) rotate(0.00)"><ellipse cx="0" cy="0" rx="25.3" ry="7.2" fill="#fff" stroke="#1e1e1e" stroke-width="1.52"/><path d="M-23.78,2.45 A25.3,7.2 0 0 0 23.78,2.45" fill="none" stroke="#111" stroke-width="2.75"/><path d="M-16.2,-1.4 A16.2,1.8 0 0 0 16.2,-1.4" fill="none" stroke="#333" stroke-width="1.1" stroke-dasharray="1.4 1.0"/></g>
<g transform="translate(216.00 437.29) rotate(0.00)"><ellipse cx="0" cy="0" rx="25.3" ry="7.2" fill="#fff" stroke="#1e1e1e" stroke-width="1.52"/><path d="M-23.78,2.45 A25.3,7.2 0 0 0 23.78,2.45" fill="none" stroke="#111" stroke-width="2.75"/><path d="M-16.2,-1.4 A16.2,1.8 0 0 0 16.2,-1.4" fill="none" stroke="#333" stroke-width="1.1" stroke-dasharray="1.4 1.0"/></g>
<g transform="translate(216.00 427.52) rotate(0.00)"><ellipse cx="0" cy="0" rx="25.3" ry="7.2" fill="#fff" stroke="#1e1e1e" stroke-width="1.52"/><path d="M-23.78,2.45 A25.3,7.2 0 0 0 23.78,2.45" fill="none" stroke="#111" stroke-width="2.75"/><path d="M-16.2,-1.4 A16.2,1.8 0 0 0 16.2,-1.4" fill="none" stroke="#333" stroke-width="1.1" stroke-dasharray="1.4 1.0"/></g>
<g transform="translate(216.00 417.76) rotate(0.00)"><ellipse cx="0" cy="0" rx="25.3" ry="7.2" fill="#fff" stroke="#1e1e1e" stroke-width="1.52"/><path d="M-23.78,2.45 A25.3,7.2 0 0 0 23.78,2.45" fill="none" stroke="#111" stroke-width="2.75"/><path d="M-16.2,-1.4 A16.2,1.8 0 0 0 16.2,-1.4" fill="none" stroke="#333" stroke-width="1.1" stroke-dasharray="1.4 1.0"/></g>
<g transform="translate(216.00 408.00) rotate(0.00)"><ellipse cx="0" cy="0" rx="25.3" ry="7.2" fill="#fff" stroke="#1e1e1e" stroke-width="1.52"/><path d="M-23.78,2.45 A25.3,7.2 0 0 0 23.78,2.45" fill="none" stroke="#111" stroke-width="2.75"/><path d="M-16.2,-1.4 A16.2,1.8 0 0 0 16.2,-1.4" fill="none" stroke="#333" stroke-width="1.1" stroke-dasharray="1.4 1.0"/></g>
<g transform="translate(216.00 398.23) rotate(0.00)"><ellipse cx="0" cy="0" rx="25.3" ry="7.2" fill="#fff" stroke="#1e1e1e" stroke-width="1.52"/><path d="M-23.78,2.45 A25.3,7.2 0 0 0 23.78,2.45" fill="none" stroke="#111" stroke-width="2.75"/><path d="M-16.2,-1.4 A16.2,1.8 0 0 0 16.2,-1.4" fill="none" stroke="#333" stroke-width="1.1" stroke-dasharray="1.4 1.0"/></g>
<g transform="translate(216.00 388.47) rotate(0.00)"><ellipse cx="0" cy="0" rx="25.3" ry="7.2" fill="#fff" stroke="#1e1e1e" stroke-width="1.52"/><path d="M-23.78,2.45 A25.3,7.2 0 0 0 23.78,2.45" fill="none" stroke="#111" stroke-width="2.75"/><path d="M-16.2,-1.4 A16.2,1.8 0 0 0 16.2,-1.4" fill="none" stroke="#333" stroke-width="1.1" stroke-dasharray="1.4 1.0"/></g>
<g transform="translate(216.00 378.70) rotate(0.00)"><ellipse cx="0" cy="0" rx="25.3" ry="7.2" fill="#fff" stroke="#1e1e1e" stroke-width="1.52"/><path d="M-23.78,2.45 A25.3,7.2 0 0 0 23.78,2.45" fill="none" stroke="#111" stroke-width="2.75"/><path d="M-16.2,-1.4 A16.2,1.8 0 0 0 16.2,-1.4" fill="none" stroke="#333" stroke-width="1.1" stroke-dasharray="1.4 1.0"/></g>
<g transform="translate(216.00 368.94) rotate(0.00)"><ellipse cx="0" cy="0" rx="25.3" ry="7.2" fill="#fff" stroke="#1e1e1e" stroke-width="1.52"/><path d="M-23.78,2.45 A25.3,7.2 0 0 0 23.78,2.45" fill="none" stroke="#111" stroke-width="2.75"/><path d="M-16.2,-1.4 A16.2,1.8 0 0 0 16.2,-1.4" fill="none" stroke="#333" stroke-width="1.1" stroke-dasharray="1.4 1.0"/></g>
<g transform="translate(216.00 359.17) rotate(0.00)"><ellipse cx="0" cy="0" rx="25.3" ry="7.2" fill="#fff" stroke="#1e1e1e" stroke-width="1.52"/><path d="M-23.78,2.45 A25.3,7.2 0 0 0 23.78,2.45" fill="none" stroke="#111" stroke-width="2.75"/><path d="M-16.2,-1.4 A16.2,1.8 0 0 0 16.2,-1.4" fill="none" stroke="#333" stroke-width="1.1" stroke-dasharray="1.4 1.0"/></g>
<g transform="translate(216.00 349.41) rotate(0.00)"><ellipse cx="0" cy="0" rx="25.3" ry="7.2" fill="#fff" stroke="#1e1e1e" stroke-width="1.52"/><path d="M-23.78,2.45 A25.3,7.2 0 0 0 23.78,2.45" fill="none" stroke="#111" stroke-width="2.75"/><path d="M-16.2,-1.4 A16.2,1.8 0 0 0 16.2,-1.4" fill="none" stroke="#333" stroke-width="1.1" stroke-dasharray="1.4 1.0"/></g>
<g transform="translate(216.00 339.64) rotate(0.00)"><ellipse cx="0" cy="0" rx="25.3" ry="7.2" fill="#fff" stroke="#1e1e1e" stroke-width="1.52"/><path d="M-23.78,2.45 A25.3,7.2 0 0 0 23.78,2.45" fill="none" stroke="#111" stroke-width="2.75"/><path d="M-16.2,-1.4 A16.2,1.8 0 0 0 16.2,-1.4" fill="none" stroke="#333" stroke-width="1.1" stroke-dasharray="1.4 1.0"/></g>
<g transform="translate(216.00 329.88) rotate(0.00)"><ellipse cx="0" cy="0" rx="25.3" ry="7.2" fill="#fff" stroke="#1e1e1e" stroke-width="1.52"/><path d="M-23.78,2.45 A25.3,7.2 0 0 0 23.78,2.45" fill="none" stroke="#111" stroke-width="2.75"/><path d="M-16.2,-1.4 A16.2,1.8 0 0 0 16.2,-1.4" fill="none" stroke="#333" stroke-width="1.1" stroke-dasharray="1.4 1.0"/></g>
<g transform="translate(216.00 320.12) rotate(0.00)"><ellipse cx="0" cy="0" rx="25.3" ry="7.2" fill="#fff" stroke="#1e1e1e" stroke-width="1.52"/><path d="M-23.78,2.45 A25.3,7.2 0 0 0 23.78,2.45" fill="none" stroke="#111" stroke-width="2.75"/><path d="M-16.2,-1.4 A16.2,1.8 0 0 0 16.2,-1.4" fill="none" stroke="#333" stroke-width="1.1" stroke-dasharray="1.4 1.0"/></g>
<g transform="translate(216.00 310.35) rotate(0.00)"><ellipse cx="0" cy="0" rx="25.3" ry="7.2" fill="#fff" stroke="#1e1e1e" stroke-width="1.52"/><path d="M-23.78,2.45 A25.3,7.2 0 0 0 23.78,2.45" fill="none" stroke="#111" stroke-width="2.75"/><path d="M-16.2,-1.4 A16.2,1.8 0 0 0 16.2,-1.4" fill="none" stroke="#333" stroke-width="1.1" stroke-dasharray="1.4 1.0"/></g>
<g transform="translate(216.00 299.70) rotate(0.00)"><ellipse cx="0" cy="0" rx="25.3" ry="7.2" fill="#fff" stroke="#1e1e1e" stroke-width="1.52"/><path d="M-23.78,2.45 A25.3,7.2 0 0 0 23.78,2.45" fill="none" stroke="#111" stroke-width="2.75"/><path d="M-16.2,-1.4 A16.2,1.8 0 0 0 16.2,-1.4" fill="none" stroke="#333" stroke-width="1.1" stroke-dasharray="1.4 1.0"/></g>
<path d="M194.3,240 L195.3,292 A20,7.5 0 0 0 235.3,292 L236.3,240 Z" fill="#fff" stroke="#1e1e1e" stroke-width="1.2"/>
<path d="M218,241 L236,241 L235.3,292 A20,7.5 0 0 1 218,299 Z" fill="#e6e6e6"/>
<path d="M194.3,240 L195.3,292 A20,7.5 0 0 0 235.3,292 L236.3,240" fill="none" stroke="#1e1e1e" stroke-width="1.2"/>
<path d="M194.6,266.7 A21,6.7 0 0 0 236,266.7" fill="none" stroke="#1e1e1e" stroke-width="1.2"/>
<path d="M185.4,211.5 L186.8,231.5 A28.8,9 0 0 0 244.2,234.5 L245.4,211.5 Z" fill="#fff" stroke="none"/>
<path d="M217,221 L244.8,219 L244.2,234.5 A28.8,9 0 0 1 217,240.5 Z" fill="#e6e6e6"/>
<path d="M197.8,239.2 Q200.0,226.8 201.8,227.3 Q203.60000000000002,226.8 207.2,239.2" fill="#fff" stroke="#1e1e1e" stroke-width="1.2"/>
<path d="M219.6,239.6 Q222.39999999999998,227.9 224.2,228.4 Q226.0,227.9 228.6,239.6" fill="#fff" stroke="#1e1e1e" stroke-width="1.2"/>
<path d="M186.8,222 Q188,228 189.5,234" fill="none" stroke="#1e1e1e" stroke-width="1.1"/>
<path d="M241.5,223 Q239.5,229 238.5,237" fill="none" stroke="#1e1e1e" stroke-width="1.1"/>
<path d="M185.4,211.5 L186.8,231.5 A28.8,9 0 0 0 244.2,234.5 L245.4,211.5 Z" fill="none" stroke="#1e1e1e" stroke-width="1.4"/>
<ellipse cx="215.40" cy="211.50" rx="30.00" ry="9.70" transform="rotate(-0.80 215.40 211.50)" fill="#fff" stroke="#1e1e1e" stroke-width="1.7" />
<ellipse cx="215.40" cy="212.80" rx="27.00" ry="8.20" transform="rotate(-0.80 215.40 212.80)" fill="#3a3a3a" stroke="#1e1e1e" stroke-width="1.3" />
<ellipse cx="215.4" cy="213.3" rx="25.8" ry="7.2" fill="none" stroke="#e8e8e8" stroke-width="0.7"/>
<ellipse cx="215.4" cy="214.1" rx="24.2" ry="6.4" fill="none" stroke="#e8e8e8" stroke-width="0.7"/>
<ellipse cx="215.4" cy="214.9" rx="22.6" ry="5.6" fill="none" stroke="#e8e8e8" stroke-width="0.7"/>
<ellipse cx="215.4" cy="215.7" rx="21" ry="4.8" fill="none" stroke="#e8e8e8" stroke-width="0.7"/>
<ellipse cx="215.4" cy="216.5" rx="19.4" ry="4.0" fill="none" stroke="#e8e8e8" stroke-width="0.7"/>
<ellipse cx="215.40" cy="218.60" rx="17.00" ry="3.20" transform="rotate(0.00 215.40 218.60)" fill="#fff" stroke="#1e1e1e" stroke-width="1.5" />
<path d="M187.5,216 A28,9.5 0 0 0 243.5,215" fill="none" stroke="#1e1e1e" stroke-width="1.3"/>
<line x1="189.9" y1="188.0" x2="189.9" y2="217.5" stroke="#1e1e1e" stroke-width="1.0"/>
<line x1="243.0" y1="178.5" x2="243.0" y2="209.0" stroke="#1e1e1e" stroke-width="1.0"/>
<line x1="380.2" y1="336.0" x2="413.5" y2="354.3" stroke="#1e1e1e" stroke-width="1.0"/>
<line x1="380.2" y1="429.7" x2="414.5" y2="448.8" stroke="#1e1e1e" stroke-width="1.0"/>
<circle cx="413.5" cy="354.3" r="1.4" fill="#1e1e1e"/>
<circle cx="414.5" cy="448.8" r="1.4" fill="#1e1e1e"/>
<line x1="380.2" y1="304.5" x2="380.2" y2="446.0" stroke="#1e1e1e" stroke-width="1.1"/>
<path d="M380.2,431.5 L384.2,439.5 L376.2,439.5 Z" fill="#1e1e1e"/>
<clipPath id="c1"><path d="M771.6,446 L857.4,446 L857.4,485 A42.89999999999998,7 0 0 1 771.6,485 Z"/></clipPath>
<g clip-path="url(#c1)">
<rect x="771.6" y="446" width="85.79999999999995" height="45" fill="#6a6a6a"/>
<path d="M769.6,452.0 A44.89999999999998,4 0 0 0 859.4,452.0" fill="none" stroke="#f4f4f4" stroke-width="1.1"/>
<path d="M769.6,453.4 A44.89999999999998,4 0 0 0 859.4,453.4" fill="none" stroke="#111" stroke-width="1.3"/>
<path d="M769.6,457.5 A44.89999999999998,4 0 0 0 859.4,457.5" fill="none" stroke="#f4f4f4" stroke-width="1.1"/>
<path d="M769.6,458.9 A44.89999999999998,4 0 0 0 859.4,458.9" fill="none" stroke="#111" stroke-width="1.3"/>
<path d="M769.6,463.0 A44.89999999999998,4 0 0 0 859.4,463.0" fill="none" stroke="#f4f4f4" stroke-width="1.1"/>
<path d="M769.6,464.4 A44.89999999999998,4 0 0 0 859.4,464.4" fill="none" stroke="#111" stroke-width="1.3"/>
<path d="M769.6,468.5 A44.89999999999998,4 0 0 0 859.4,468.5" fill="none" stroke="#f4f4f4" stroke-width="1.1"/>
<path d="M769.6,469.9 A44.89999999999998,4 0 0 0 859.4,469.9" fill="none" stroke="#111" stroke-width="1.3"/>
<path d="M769.6,474.0 A44.89999999999998,4 0 0 0 859.4,474.0" fill="none" stroke="#f4f4f4" stroke-width="1.1"/>
<path d="M769.6,475.4 A44.89999999999998,4 0 0 0 859.4,475.4" fill="none" stroke="#111" stroke-width="1.3"/>
<path d="M769.6,479.5 A44.89999999999998,4 0 0 0 859.4,479.5" fill="none" stroke="#f4f4f4" stroke-width="1.1"/>
<path d="M769.6,480.9 A44.89999999999998,4 0 0 0 859.4,480.9" fill="none" stroke="#111" stroke-width="1.3"/>
<path d="M769.6,485.0 A44.89999999999998,4 0 0 0 859.4,485.0" fill="none" stroke="#f4f4f4" stroke-width="1.1"/>
<path d="M769.6,486.4 A44.89999999999998,4 0 0 0 859.4,486.4" fill="none" stroke="#111" stroke-width="1.3"/>
<path d="M769.6,490.5 A44.89999999999998,4 0 0 0 859.4,490.5" fill="none" stroke="#f4f4f4" stroke-width="1.1"/>
<path d="M769.6,491.9 A44.89999999999998,4 0 0 0 859.4,491.9" fill="none" stroke="#111" stroke-width="1.3"/>
</g>
<path d="M773.1,452.0 L770.8000000000001,454.5 L773.1,457.0" fill="none" stroke="#1e1e1e" stroke-width="1"/>
<path d="M855.9,452.0 L858.1999999999999,454.5 L855.9,457.0" fill="none" stroke="#1e1e1e" stroke-width="1"/>
<path d="M773.1,457.5 L770.8000000000001,460.0 L773.1,462.5" fill="none" stroke="#1e1e1e" stroke-width="1"/>
<path d="M855.9,457.5 L858.1999999999999,460.0 L855.9,462.5" fill="none" stroke="#1e1e1e" stroke-width="1"/>
<path d="M773.1,463.0 L770.8000000000001,465.5 L773.1,468.0" fill="none" stroke="#1e1e1e" stroke-width="1"/>
<path d="M855.9,463.0 L858.1999999999999,465.5 L855.9,468.0" fill="none" stroke="#1e1e1e" stroke-width="1"/>
<path d="M773.1,468.5 L770.8000000000001,471.0 L773.1,473.5" fill="none" stroke="#1e1e1e" stroke-width="1"/>
<path d="M855.9,468.5 L858.1999999999999,471.0 L855.9,473.5" fill="none" stroke="#1e1e1e" stroke-width="1"/>
<path d="M773.1,474.0 L770.8000000000001,476.5 L773.1,479.0" fill="none" stroke="#1e1e1e" stroke-width="1"/>
<path d="M855.9,474.0 L858.1999999999999,476.5 L855.9,479.0" fill="none" stroke="#1e1e1e" stroke-width="1"/>
<path d="M773.1,479.5 L770.8000000000001,482.0 L773.1,484.5" fill="none" stroke="#1e1e1e" stroke-width="1"/>
<path d="M855.9,479.5 L858.1999999999999,482.0 L855.9,484.5" fill="none" stroke="#1e1e1e" stroke-width="1"/>
<path d="M771.6,485 A42.9,7 0 0 0 857.4,485" fill="none" stroke="#1e1e1e" stroke-width="1.6"/>
<path d="M766.4,385 L766.4,448 Q767,455 775,456 A48,8 0 0 0 855,456 Q863,455 863,448 L863,385 Z" fill="#fff" stroke="#1e1e1e" stroke-width="1.2"/>
<path d="M828.5,390 L862.3,390 L862.3,448 Q862,455 855,456 Q845,461 828.5,462 Z" fill="#e6e6e6"/>
<path d="M766.4,385 L766.4,448 Q767,455 775,456 A48,8 0 0 0 855,456 Q863,455 863,448 L863,385" fill="none" stroke="#1e1e1e" stroke-width="1.2"/>
<path d="M741.7,368 L742.5,380.3 A71.4,14 0 0 0 885.4,378.8 L887.5,366.8 A73,11 0 0 0 741.7,368 Z" fill="#fff" stroke="#1e1e1e" stroke-width="1.2"/>
<path d="M836.8,386 Q870,383 886,370 L885.4,378.8 Q875,390 836.8,394 Z" fill="#e6e6e6"/>
<path d="M742.3,374.5 A71.8,12.5 0 0 0 886,373" fill="none" stroke="#1e1e1e" stroke-width="0.9"/>
<path d="M742.5,380.3 A71.4,14 0 0 0 885.4,378.8" fill="none" stroke="#1e1e1e" stroke-width="1.6"/>
<ellipse cx="814.50" cy="367.30" rx="73.00" ry="11.00" transform="rotate(-0.60 814.50 367.30)" fill="#fff" stroke="#1e1e1e" stroke-width="1.3" />
<ellipse cx="814.50" cy="367.60" rx="70.50" ry="9.80" transform="rotate(-0.60 814.50 367.60)" fill="none" stroke="#1e1e1e" stroke-width="1.4" />
<path d="M745,366.5 A69.5,9.5 -0.6 0 1 884,365.5" fill="none" stroke="#333" stroke-width="2.2" stroke-dasharray="2.5 1.2"/>
<ellipse cx="814.70" cy="371.40" rx="47.50" ry="7.50" transform="rotate(0.00 814.70 371.40)" fill="#fff" stroke="#1e1e1e" stroke-width="1.1" />
<ellipse cx="814.70" cy="371.70" rx="43.00" ry="5.50" transform="rotate(0.00 814.70 371.70)" fill="none" stroke="#1e1e1e" stroke-width="0.8" />
<ellipse cx="814.40" cy="378.00" rx="34.40" ry="3.90" transform="rotate(0.00 814.40 378.00)" fill="#3a3a3a" stroke="#1e1e1e" stroke-width="0.8" />
<path d="M786,376.5 A30,2.2 0 0 1 843,376.5" fill="none" stroke="#ddd" stroke-width="0.8"/>
<clipPath id="c2"><path d="M771.8,240 L856.2,240 L856.2,357 A42.200000000000045,6.5 0 0 1 771.8,357 Z"/></clipPath>
<g clip-path="url(#c2)">
<rect x="771.8" y="240" width="84.40000000000009" height="123" fill="#5a5a5a"/>
<path d="M769.8,246.0 A44.200000000000045,3.5 0 0 0 858.2,246.0" fill="none" stroke="#f4f4f4" stroke-width="1.1"/>
<path d="M769.8,247.4 A44.200000000000045,3.5 0 0 0 858.2,247.4" fill="none" stroke="#111" stroke-width="1.3"/>
<path d="M769.8,251.2 A44.200000000000045,3.5 0 0 0 858.2,251.2" fill="none" stroke="#f4f4f4" stroke-width="1.1"/>
<path d="M769.8,252.6 A44.200000000000045,3.5 0 0 0 858.2,252.6" fill="none" stroke="#111" stroke-width="1.3"/>
<path d="M769.8,256.3 A44.200000000000045,3.5 0 0 0 858.2,256.3" fill="none" stroke="#f4f4f4" stroke-width="1.1"/>
<path d="M769.8,257.7 A44.200000000000045,3.5 0 0 0 858.2,257.7" fill="none" stroke="#111" stroke-width="1.3"/>
<path d="M769.8,261.4 A44.200000000000045,3.5 0 0 0 858.2,261.4" fill="none" stroke="#f4f4f4" stroke-width="1.1"/>
<path d="M769.8,262.8 A44.200000000000045,3.5 0 0 0 858.2,262.8" fill="none" stroke="#111" stroke-width="1.3"/>
<path d="M769.8,266.6 A44.200000000000045,3.5 0 0 0 858.2,266.6" fill="none" stroke="#f4f4f4" stroke-width="1.1"/>
<path d="M769.8,268.0 A44.200000000000045,3.5 0 0 0 858.2,268.0" fill="none" stroke="#111" stroke-width="1.3"/>
<path d="M769.8,271.7 A44.200000000000045,3.5 0 0 0 858.2,271.7" fill="none" stroke="#f4f4f4" stroke-width="1.1"/>
<path d="M769.8,273.1 A44.200000000000045,3.5 0 0 0 858.2,273.1" fill="none" stroke="#111" stroke-width="1.3"/>
<path d="M769.8,276.9 A44.200000000000045,3.5 0 0 0 858.2,276.9" fill="none" stroke="#f4f4f4" stroke-width="1.1"/>
<path d="M769.8,278.3 A44.200000000000045,3.5 0 0 0 858.2,278.3" fill="none" stroke="#111" stroke-width="1.3"/>
<path d="M769.8,282.0 A44.200000000000045,3.5 0 0 0 858.2,282.0" fill="none" stroke="#f4f4f4" stroke-width="1.1"/>
<path d="M769.8,283.4 A44.200000000000045,3.5 0 0 0 858.2,283.4" fill="none" stroke="#111" stroke-width="1.3"/>
<path d="M769.8,287.2 A44.200000000000045,3.5 0 0 0 858.2,287.2" fill="none" stroke="#f4f4f4" stroke-width="1.1"/>
<path d="M769.8,288.6 A44.200000000000045,3.5 0 0 0 858.2,288.6" fill="none" stroke="#111" stroke-width="1.3"/>
<path d="M769.8,292.3 A44.200000000000045,3.5 0 0 0 858.2,292.3" fill="none" stroke="#f4f4f4" stroke-width="1.1"/>
<path d="M769.8,293.7 A44.200000000000045,3.5 0 0 0 858.2,293.7" fill="none" stroke="#111" stroke-width="1.3"/>
<path d="M769.8,297.5 A44.200000000000045,3.5 0 0 0 858.2,297.5" fill="none" stroke="#f4f4f4" stroke-width="1.1"/>
<path d="M769.8,298.9 A44.200000000000045,3.5 0 0 0 858.2,298.9" fill="none" stroke="#111" stroke-width="1.3"/>
<path d="M769.8,302.6 A44.200000000000045,3.5 0 0 0 858.2,302.6" fill="none" stroke="#f4f4f4" stroke-width="1.1"/>
<path d="M769.8,304.0 A44.200000000000045,3.5 0 0 0 858.2,304.0" fill="none" stroke="#111" stroke-width="1.3"/>
<path d="M769.8,307.8 A44.200000000000045,3.5 0 0 0 858.2,307.8" fill="none" stroke="#f4f4f4" stroke-width="1.1"/>
<path d="M769.8,309.2 A44.200000000000045,3.5 0 0 0 858.2,309.2" fill="none" stroke="#111" stroke-width="1.3"/>
<path d="M769.8,312.9 A44.200000000000045,3.5 0 0 0 858.2,312.9" fill="none" stroke="#f4f4f4" stroke-width="1.1"/>
<path d="M769.8,314.3 A44.200000000000045,3.5 0 0 0 858.2,314.3" fill="none" stroke="#111" stroke-width="1.3"/>
<path d="M769.8,318.1 A44.200000000000045,3.5 0 0 0 858.2,318.1" fill="none" stroke="#f4f4f4" stroke-width="1.1"/>
<path d="M769.8,319.5 A44.200000000000045,3.5 0 0 0 858.2,319.5" fill="none" stroke="#111" stroke-width="1.3"/>
<path d="M769.8,323.2 A44.200000000000045,3.5 0 0 0 858.2,323.2" fill="none" stroke="#f4f4f4" stroke-width="1.1"/>
<path d="M769.8,324.6 A44.200000000000045,3.5 0 0 0 858.2,324.6" fill="none" stroke="#111" stroke-width="1.3"/>
<path d="M769.8,328.4 A44.200000000000045,3.5 0 0 0 858.2,328.4" fill="none" stroke="#f4f4f4" stroke-width="1.1"/>
<path d="M769.8,329.8 A44.200000000000045,3.5 0 0 0 858.2,329.8" fill="none" stroke="#111" stroke-width="1.3"/>
<path d="M769.8,333.5 A44.200000000000045,3.5 0 0 0 858.2,333.5" fill="none" stroke="#f4f4f4" stroke-width="1.1"/>
<path d="M769.8,334.9 A44.200000000000045,3.5 0 0 0 858.2,334.9" fill="none" stroke="#111" stroke-width="1.3"/>
<path d="M769.8,338.7 A44.200000000000045,3.5 0 0 0 858.2,338.7" fill="none" stroke="#f4f4f4" stroke-width="1.1"/>
<path d="M769.8,340.1 A44.200000000000045,3.5 0 0 0 858.2,340.1" fill="none" stroke="#111" stroke-width="1.3"/>
<path d="M769.8,343.8 A44.200000000000045,3.5 0 0 0 858.2,343.8" fill="none" stroke="#f4f4f4" stroke-width="1.1"/>
<path d="M769.8,345.2 A44.200000000000045,3.5 0 0 0 858.2,345.2" fill="none" stroke="#111" stroke-width="1.3"/>
<path d="M769.8,349.0 A44.200000000000045,3.5 0 0 0 858.2,349.0" fill="none" stroke="#f4f4f4" stroke-width="1.1"/>
<path d="M769.8,350.4 A44.200000000000045,3.5 0 0 0 858.2,350.4" fill="none" stroke="#111" stroke-width="1.3"/>
<path d="M769.8,354.1 A44.200000000000045,3.5 0 0 0 858.2,354.1" fill="none" stroke="#f4f4f4" stroke-width="1.1"/>
<path d="M769.8,355.5 A44.200000000000045,3.5 0 0 0 858.2,355.5" fill="none" stroke="#111" stroke-width="1.3"/>
<path d="M769.8,359.3 A44.200000000000045,3.5 0 0 0 858.2,359.3" fill="none" stroke="#f4f4f4" stroke-width="1.1"/>
<path d="M769.8,360.7 A44.200000000000045,3.5 0 0 0 858.2,360.7" fill="none" stroke="#111" stroke-width="1.3"/>
</g>
<path d="M773.3,246.0 L771.0,248.5 L773.3,251.0" fill="none" stroke="#1e1e1e" stroke-width="1"/>
<path d="M854.7,246.0 L857.0,248.5 L854.7,251.0" fill="none" stroke="#1e1e1e" stroke-width="1"/>
<path d="M773.3,251.2 L771.0,253.7 L773.3,256.1" fill="none" stroke="#1e1e1e" stroke-width="1"/>
<path d="M854.7,251.2 L857.0,253.7 L854.7,256.1" fill="none" stroke="#1e1e1e" stroke-width="1"/>
<path d="M773.3,256.3 L771.0,258.8 L773.3,261.3" fill="none" stroke="#1e1e1e" stroke-width="1"/>
<path d="M854.7,256.3 L857.0,258.8 L854.7,261.3" fill="none" stroke="#1e1e1e" stroke-width="1"/>
<path d="M773.3,261.4 L771.0,263.9 L773.3,266.4" fill="none" stroke="#1e1e1e" stroke-width="1"/>
<path d="M854.7,261.4 L857.0,263.9 L854.7,266.4" fill="none" stroke="#1e1e1e" stroke-width="1"/>
<path d="M773.3,266.6 L771.0,269.1 L773.3,271.6" fill="none" stroke="#1e1e1e" stroke-width="1"/>
<path d="M854.7,266.6 L857.0,269.1 L854.7,271.6" fill="none" stroke="#1e1e1e" stroke-width="1"/>
<path d="M773.3,271.7 L771.0,274.2 L773.3,276.7" fill="none" stroke="#1e1e1e" stroke-width="1"/>
<path d="M854.7,271.7 L857.0,274.2 L854.7,276.7" fill="none" stroke="#1e1e1e" stroke-width="1"/>
<path d="M773.3,276.9 L771.0,279.4 L773.3,281.9" fill="none" stroke="#1e1e1e" stroke-width="1"/>
<path d="M854.7,276.9 L857.0,279.4 L854.7,281.9" fill="none" stroke="#1e1e1e" stroke-width="1"/>
<path d="M773.3,282.0 L771.0,284.5 L773.3,287.0" fill="none" stroke="#1e1e1e" stroke-width="1"/>
<path d="M854.7,282.0 L857.0,284.5 L854.7,287.0" fill="none" stroke="#1e1e1e" stroke-width="1"/>
<path d="M773.3,287.2 L771.0,289.7 L773.3,292.2" fill="none" stroke="#1e1e1e" stroke-width="1"/>
<path d="M854.7,287.2 L857.0,289.7 L854.7,292.2" fill="none" stroke="#1e1e1e" stroke-width="1"/>
<path d="M773.3,292.3 L771.0,294.8 L773.3,297.3" fill="none" stroke="#1e1e1e" stroke-width="1"/>
<path d="M854.7,292.3 L857.0,294.8 L854.7,297.3" fill="none" stroke="#1e1e1e" stroke-width="1"/>
<path d="M773.3,297.5 L771.0,300.0 L773.3,302.5" fill="none" stroke="#1e1e1e" stroke-width="1"/>
<path d="M854.7,297.5 L857.0,300.0 L854.7,302.5" fill="none" stroke="#1e1e1e" stroke-width="1"/>
<path d="M773.3,302.6 L771.0,305.1 L773.3,307.6" fill="none" stroke="#1e1e1e" stroke-width="1"/>
<path d="M854.7,302.6 L857.0,305.1 L854.7,307.6" fill="none" stroke="#1e1e1e" stroke-width="1"/>
<path d="M773.3,307.8 L771.0,310.3 L773.3,312.8" fill="none" stroke="#1e1e1e" stroke-width="1"/>
<path d="M854.7,307.8 L857.0,310.3 L854.7,312.8" fill="none" stroke="#1e1e1e" stroke-width="1"/>
<path d="M773.3,312.9 L771.0,315.4 L773.3,317.9" fill="none" stroke="#1e1e1e" stroke-width="1"/>
<path d="M854.7,312.9 L857.0,315.4 L854.7,317.9" fill="none" stroke="#1e1e1e" stroke-width="1"/>
<path d="M773.3,318.1 L771.0,320.6 L773.3,323.1" fill="none" stroke="#1e1e1e" stroke-width="1"/>
<path d="M854.7,318.1 L857.0,320.6 L854.7,323.1" fill="none" stroke="#1e1e1e" stroke-width="1"/>
<path d="M773.3,323.2 L771.0,325.7 L773.3,328.2" fill="none" stroke="#1e1e1e" stroke-width="1"/>
<path d="M854.7,323.2 L857.0,325.7 L854.7,328.2" fill="none" stroke="#1e1e1e" stroke-width="1"/>
<path d="M773.3,328.4 L771.0,330.9 L773.3,333.4" fill="none" stroke="#1e1e1e" stroke-width="1"/>
<path d="M854.7,328.4 L857.0,330.9 L854.7,333.4" fill="none" stroke="#1e1e1e" stroke-width="1"/>
<path d="M773.3,333.5 L771.0,336.0 L773.3,338.5" fill="none" stroke="#1e1e1e" stroke-width="1"/>
<path d="M854.7,333.5 L857.0,336.0 L854.7,338.5" fill="none" stroke="#1e1e1e" stroke-width="1"/>
<path d="M773.3,338.7 L771.0,341.2 L773.3,343.7" fill="none" stroke="#1e1e1e" stroke-width="1"/>
<path d="M854.7,338.7 L857.0,341.2 L854.7,343.7" fill="none" stroke="#1e1e1e" stroke-width="1"/>
<path d="M773.3,343.8 L771.0,346.3 L773.3,348.8" fill="none" stroke="#1e1e1e" stroke-width="1"/>
<path d="M854.7,343.8 L857.0,346.3 L854.7,348.8" fill="none" stroke="#1e1e1e" stroke-width="1"/>
<path d="M773.3,349.0 L771.0,351.5 L773.3,354.0" fill="none" stroke="#1e1e1e" stroke-width="1"/>
<path d="M854.7,349.0 L857.0,351.5 L854.7,354.0" fill="none" stroke="#1e1e1e" stroke-width="1"/>
<path d="M773.3,354.1 L771.0,356.6 L773.3,359.1" fill="none" stroke="#1e1e1e" stroke-width="1"/>
<path d="M854.7,354.1 L857.0,356.6 L854.7,359.1" fill="none" stroke="#1e1e1e" stroke-width="1"/>
<clipPath id="c4"><path d="M771.8,325 L856.2,325 L856.2,357 A42.2,5 0 0 1 771.8,357 Z"/></clipPath>
<rect x="771" y="325" width="86" height="40" fill="#fff" opacity="0.22" clip-path="url(#c4)"/>
<path d="M771.8,357 A42.2,5 0 0 0 856.2,357" fill="none" stroke="#1e1e1e" stroke-width="1.5"/>
<path d="M777.5,252 L797,254 L797,283.5 L777.5,281 Z" fill="#fff" stroke="none"/>
<path d="M777.5,260.5 L797,262 L797,283.5 L777.5,281 Z" fill="#fff" stroke="#1e1e1e" stroke-width="1"/>
<line x1="781.4" y1="261.0" x2="781.4" y2="282.5" stroke="#1e1e1e" stroke-width="0.9"/>
<line x1="791.0" y1="261.0" x2="791.0" y2="282.5" stroke="#1e1e1e" stroke-width="0.9"/>
<line x1="793.7" y1="261.0" x2="793.7" y2="282.5" stroke="#1e1e1e" stroke-width="0.9"/>
<path d="M747,313.7 L747.5,320.4 A66.8,12.3 0 0 0 881,317 L881,310 A67,8.5 0 0 0 747,313.7 Z" fill="#fff" stroke="#1e1e1e" stroke-width="1.2"/>
<path d="M836,329 Q870,326 881,317 L881,312 Q872,322 836,325 Z" fill="#e6e6e6"/>
<path d="M747.5,320.4 A66.8,12.3 0 0 0 881,317" fill="none" stroke="#1e1e1e" stroke-width="1.4"/>
<path d="M748,315.5 A66.5,11.5 0 0 0 880.5,312.5" fill="none" stroke="#1e1e1e" stroke-width="0.8"/>
<ellipse cx="814.00" cy="311.80" rx="67.00" ry="8.80" transform="rotate(-1.50 814.00 311.80)" fill="#fff" stroke="#1e1e1e" stroke-width="1.2" />
<ellipse cx="814.00" cy="312.50" rx="51.00" ry="6.50" transform="rotate(-1.50 814.00 312.50)" fill="#fff" stroke="#1e1e1e" stroke-width="0.9" />
<line x1="762.7" y1="312.0" x2="762.9" y2="319.0" stroke="#1e1e1e" stroke-width="0.8"/>
<line x1="865.0" y1="311.0" x2="865.0" y2="318.0" stroke="#1e1e1e" stroke-width="0.8"/>
<path d="M752.3,290.7 L763.4,309.8 A50.2,9 0 0 0 863.6,309.8 L875.5,290.7 Z" fill="#fff" stroke="#1e1e1e" stroke-width="1.2"/>
<path d="M757,299 L763.4,309.8 A50.2,9 0 0 0 863.6,309.8 L870,299 A56,7.5 0 0 1 757,299 Z" fill="#e6e6e6"/>
<path d="M752.3,290.7 L763.4,309.8 A50.2,9 0 0 0 863.6,309.8 L875.5,290.7" fill="none" stroke="#1e1e1e" stroke-width="1.2"/>
<ellipse cx="813.90" cy="290.80" rx="61.60" ry="10.00" transform="rotate(0.00 813.90 290.80)" fill="#fff" stroke="#1e1e1e" stroke-width="1.2" />
<ellipse cx="813.90" cy="291.30" rx="56.00" ry="8.20" transform="rotate(0.00 813.90 291.30)" fill="#fff" stroke="#1e1e1e" stroke-width="0.9" />
<path d="M758,293 A56,8.6 0 0 0 870,293" fill="none" stroke="#1e1e1e" stroke-width="0.8"/>
<clipPath id="c3"><path d="M771.8,281 L856.2,281 L856.2,297.2 A56,8.2 0 0 1 771.8,297.2 Z"/></clipPath>
<g clip-path="url(#c3)">
<rect x="771.8" y="281" width="84.4" height="20" fill="#5a5a5a"/>
<path d="M769.8,246.00 A44.2,3.5 0 0 0 858.2,246.00" fill="none" stroke="#f4f4f4" stroke-width="1.1"/>
<path d="M769.8,247.40 A44.2,3.5 0 0 0 858.2,247.40" fill="none" stroke="#111" stroke-width="1.3"/>
<path d="M769.8,251.15 A44.2,3.5 0 0 0 858.2,251.15" fill="none" stroke="#f4f4f4" stroke-width="1.1"/>
<path d="M769.8,252.55 A44.2,3.5 0 0 0 858.2,252.55" fill="none" stroke="#111" stroke-width="1.3"/>
<path d="M769.8,256.30 A44.2,3.5 0 0 0 858.2,256.30" fill="none" stroke="#f4f4f4" stroke-width="1.1"/>
<path d="M769.8,257.70 A44.2,3.5 0 0 0 858.2,257.70" fill="none" stroke="#111" stroke-width="1.3"/>
<path d="M769.8,261.45 A44.2,3.5 0 0 0 858.2,261.45" fill="none" stroke="#f4f4f4" stroke-width="1.1"/>
<path d="M769.8,262.85 A44.2,3.5 0 0 0 858.2,262.85" fill="none" stroke="#111" stroke-width="1.3"/>
<path d="M769.8,266.60 A44.2,3.5 0 0 0 858.2,266.60" fill="none" stroke="#f4f4f4" stroke-width="1.1"/>
<path d="M769.8,268.00 A44.2,3.5 0 0 0 858.2,268.00" fill="none" stroke="#111" stroke-width="1.3"/>
<path d="M769.8,271.75 A44.2,3.5 0 0 0 858.2,271.75" fill="none" stroke="#f4f4f4" stroke-width="1.1"/>
<path d="M769.8,273.15 A44.2,3.5 0 0 0 858.2,273.15" fill="none" stroke="#111" stroke-width="1.3"/>
<path d="M769.8,276.90 A44.2,3.5 0 0 0 858.2,276.90" fill="none" stroke="#f4f4f4" stroke-width="1.1"/>
<path d="M769.8,278.30 A44.2,3.5 0 0 0 858.2,278.30" fill="none" stroke="#111" stroke-width="1.3"/>
<path d="M769.8,282.05 A44.2,3.5 0 0 0 858.2,282.05" fill="none" stroke="#f4f4f4" stroke-width="1.1"/>
<path d="M769.8,283.45 A44.2,3.5 0 0 0 858.2,283.45" fill="none" stroke="#111" stroke-width="1.3"/>
<path d="M769.8,287.20 A44.2,3.5 0 0 0 858.2,287.20" fill="none" stroke="#f4f4f4" stroke-width="1.1"/>
<path d="M769.8,288.60 A44.2,3.5 0 0 0 858.2,288.60" fill="none" stroke="#111" stroke-width="1.3"/>
<path d="M769.8,292.35 A44.2,3.5 0 0 0 858.2,292.35" fill="none" stroke="#f4f4f4" stroke-width="1.1"/>
<path d="M769.8,293.75 A44.2,3.5 0 0 0 858.2,293.75" fill="none" stroke="#111" stroke-width="1.3"/>
<path d="M769.8,297.50 A44.2,3.5 0 0 0 858.2,297.50" fill="none" stroke="#f4f4f4" stroke-width="1.1"/>
<path d="M769.8,298.90 A44.2,3.5 0 0 0 858.2,298.90" fill="none" stroke="#111" stroke-width="1.3"/>
</g>
<path d="M771.8,282 L771.8,297.2" stroke="#1e1e1e" stroke-width="1.1"/>
<path d="M856.2,282 L856.2,297.2" stroke="#1e1e1e" stroke-width="1.1"/>
<path d="M752.3,290.8 A61.6,10 0 0 0 875.5,290.8" fill="none" stroke="#1e1e1e" stroke-width="1.2"/>
<path d="M751.5,228.3 L769.4,244.8 A44.5,7.5 0 0 0 854.7,244.8 L875.7,225.3 Z" fill="#fff" stroke="#1e1e1e" stroke-width="1.2"/>
<path d="M760,237 L769.4,244.8 A44.5,7.5 0 0 0 854.7,244.8 L865,235 A52,7 0 0 1 760,237 Z" fill="#e6e6e6"/>
<path d="M751.5,228.3 L769.4,244.8 A44.5,7.5 0 0 0 854.7,244.8 L875.7,225.3" fill="none" stroke="#1e1e1e" stroke-width="1.2"/>
<path d="M771.8,246 A42.2,6 0 0 0 856.2,246" fill="none" stroke="#1e1e1e" stroke-width="1.3"/>
<path d="M749.4,220 L750.5,226 A63.5,10.5 0 0 0 877.5,224 L878,218.6 Z" fill="#fff" stroke="#1e1e1e" stroke-width="1.2"/>
<path d="M750.5,226 A63.5,10.5 0 0 0 877.5,224" fill="none" stroke="#1e1e1e" stroke-width="1.2"/>
<path d="M754,231 A60,8.5 0 0 0 873,229" fill="none" stroke="#1e1e1e" stroke-width="1.0"/>
<path d="M757,234 A57,8.5 0 0 0 870,232" fill="none" stroke="#1e1e1e" stroke-width="1.8"/>
<ellipse cx="813.60" cy="219.70" rx="64.50" ry="10.00" transform="rotate(-0.50 813.60 219.70)" fill="#fff" stroke="#1e1e1e" stroke-width="1.2" />
<ellipse cx="812.80" cy="222.00" rx="51.00" ry="7.80" transform="rotate(0.00 812.80 222.00)" fill="none" stroke="#1e1e1e" stroke-width="1.0" />
<ellipse cx="813.00" cy="220.50" rx="40.00" ry="6.00" transform="rotate(0.00 813.00 220.50)" fill="none" stroke="#1e1e1e" stroke-width="1.0" />
<ellipse cx="813.00" cy="221.00" rx="30.00" ry="4.20" transform="rotate(0.00 813.00 221.00)" fill="none" stroke="#1e1e1e" stroke-width="1.4" />
<path d="M784.4,208 L784.4,218 A28.8,4.5 0 0 0 842,218 L842,208 Z" fill="#fff" stroke="#1e1e1e" stroke-width="1.1"/>
<path d="M823.3,209 L841.5,209 L841.5,218 A28.8,4.5 0 0 1 823.3,222.3 Z" fill="#e6e6e6"/>
<path d="M784.4,208 L784.4,218 A28.8,4.5 0 0 0 842,218 L842,208" fill="none" stroke="#1e1e1e" stroke-width="1.1"/>
<path d="M737.7,195 C738.5,187 743,181 751,177.5 Q785,167 818.8,165.5 Q852,167 875.5,177.5 C883,181 888,187 888.4,193 L888.4,195.5 Q882,207.5 813,210.8 Q744,207.5 737.7,196.5 Z" fill="#fff" stroke="none"/>
<path d="M860,195 Q880,190 888,193 Q886,203 845,208.5 Q868,202 860,195 Z" fill="#e6e6e6"/>
<path d="M737.7,195 C738.5,187 743,181 751,177.5 Q785,167 818.8,165.5 Q852,167 875.5,177.5 C883,181 888,187 888.4,193 L888.4,195.5 Q882,207.5 813,210.8 Q744,207.5 737.7,196.5 Z" fill="none" stroke="#1e1e1e" stroke-width="1.2"/>
<path d="M738.5,198 Q752,206.5 813,208 Q878,206 887.5,197" fill="none" stroke="#1e1e1e" stroke-width="0.9"/>
<path d="M751,180.5 A62.5,11.5 0.5 0 0 875.7,181.5" fill="none" stroke="#1e1e1e" stroke-width="1.1"/>
<line x1="841.3" y1="219.0" x2="914.6" y2="222.5" stroke="#1e1e1e" stroke-width="1.0"/>
<line x1="851.8" y1="355.6" x2="914.6" y2="358.8" stroke="#1e1e1e" stroke-width="1.0"/>
<circle cx="883" cy="355.6" r="1.7" fill="#1e1e1e"/>
</svg></body></html>
